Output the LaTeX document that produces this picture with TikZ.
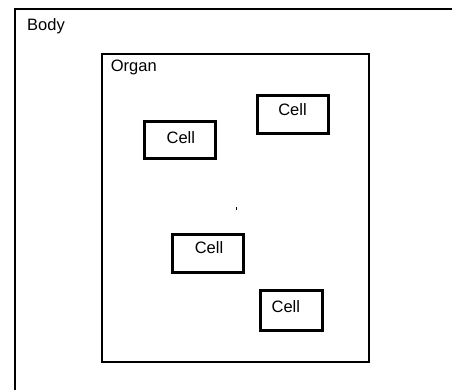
\documentclass[tikz,border=0pt]{standalone}
\usepackage{fontspec}
\setmainfont{Liberation Sans}
\usepackage{tikz}
\usetikzlibrary{calc,positioning}

\begin{document}
\begin{tikzpicture}[x=1pt, y=-1pt]

\tikzstyle{cellbox}=[rectangle, draw, line width=3pt, inner sep=0pt]
\tikzstyle{lbl}=[inner sep=0pt, font=\fontsize{16.5}{20}\selectfont]

\clip (0,0) rectangle (452,389);
\fill[white] (0,0) rectangle (452,389);

% body and organ
\draw[line width=2pt] (14.5,9) rectangle (470,410);
\node[lbl, anchor=base west] (body) at (27,30) {Body};
\draw[line width=2.5pt] (102,54) rectangle (369,362);
\node[lbl, anchor=base west] (organ) at (110.7,71.7) {Organ};

% cells: name/x/y/width/height/text x/text y
\foreach \n/\x/\y/\w/\h/\tx/\ty in {c1/179.8/140.2/71.3/37.3/180.8/137.3,
                                    c2/293/114.5/71/37.3/292.5/110,
                                    c3/208.2/253.7/71.3/37.7/209/247.8,
                                    c4/291.5/310.5/61.3/39.3/285.8/306.7}{
  \node[cellbox, minimum width=\w pt, minimum height=\h pt] (\n) at (\x,\y) {};
  \node[lbl] (\n text) at (\tx,\ty) {Cell};
}

\draw[line width=0.7pt] (236.3,207) -- (236.3,210);

\end{tikzpicture}
\end{document}
